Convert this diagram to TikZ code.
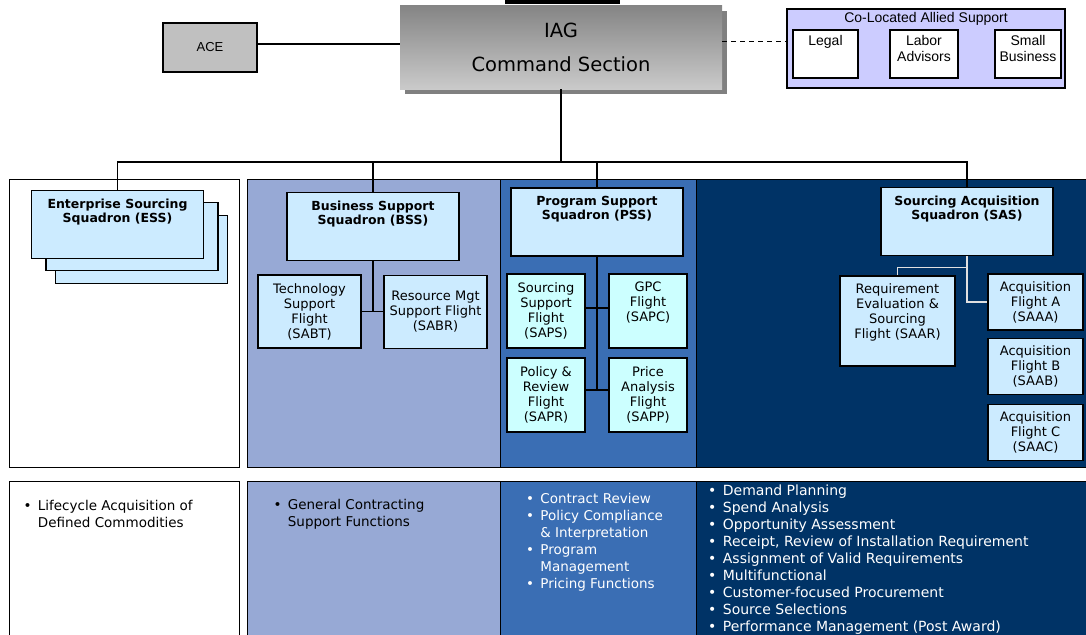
\documentclass[tikz,border=0pt]{standalone}
\usepackage{fontspec}
\setmainfont{DejaVu Sans}
\newfontfamily\arialfont{Liberation Sans}
\usetikzlibrary{positioning,shadows}

\definecolor{sqblue}{HTML}{CCEBFF}
\definecolor{flcyan}{HTML}{CCFFFF}
\definecolor{bssblue}{HTML}{97A9D5}
\definecolor{pssblue}{HTML}{3A6EB4}
\definecolor{sasblue}{HTML}{003366}
\definecolor{alliedbg}{HTML}{CCCCFF}
\definecolor{acegray}{HTML}{C0C0C0}
\definecolor{iagtop}{HTML}{858585}
\definecolor{iagbot}{HTML}{CACACA}

\newcommand{\blt}{\makebox[1.05em][l]{\textbullet}}
\newcommand{\bltin}{\hspace*{1.05em}}

\begin{document}
\begin{tikzpicture}[x=1pt,y=-1pt,
    box/.style={draw,line width=1.2pt,inner sep=0pt},
    sqbox/.style={box,fill=sqblue,minimum width=172pt,minimum height=68pt},
    sqtext/.style={align=center,inner sep=0pt,font=\fontsize{12.5}{14}\selectfont\bfseries},
    flbox/.style={box,fill=sqblue,align=center,font=\fontsize{13}{15}\selectfont},
    fltext/.style={align=center,inner sep=0pt,font=\fontsize{13}{15}\selectfont},
    cobox/.style={box,fill=white,minimum height=48pt},
    cotext/.style={align=center,inner sep=0pt,font=\arialfont\fontsize{14}{15.5}\selectfont},
    bullets/.style={anchor=north west,align=left,inner sep=0pt,font=\fontsize{13.5}{17}\selectfont},
    wire/.style={line width=1.2pt}]
\useasboundingbox (0,0) rectangle (1086,634);

% panels behind each squadron, top row and function row
\foreach \l/\r/\col in {9/239/white, 247/500/bssblue, 500/696/pssblue, 696/1086/sasblue} {
    \draw[fill=\col] (\l,179) rectangle (\r,467);
    \draw[fill=\col] (\l,481) rectangle (\r,640);
}
\fill (505,0) rectangle (620,4);

% command level
\node[box,fill=acegray,minimum width=94pt,minimum height=49pt,font=\arialfont\fontsize{13}{15}\selectfont] (ace) at (210,47.5) {ACE};
\node[inner sep=0pt,minimum width=322pt,minimum height=83pt,top color=iagtop,bottom color=iagbot,
      drop shadow={shadow xshift=5pt,shadow yshift=-5pt,fill=black!50,opacity=1},
      align=center,font=\fontsize{19.5}{34}\selectfont] (iag) at (561,47.5) {IAG\\Command Section};
\node[box,fill=alliedbg,minimum width=278pt,minimum height=79pt] (allied) at (926,48.5) {};
\node[cotext,below=3.5pt of allied.north] (allied-t) {Co-Located Allied Support};
\foreach \n/\x/\w/\txt in {legal/825.5/65/Legal, labor/924/68/{Labor\\Advisors}, small/1028/66/{Small\\Business}} {
    \node[cobox,minimum width=\w pt] (\n) at (\x,54) {};
    \node[cotext,below=6pt of \n.north] (\n-t) {\txt};
}

% squadrons
\foreach \i/\dx/\dy in {3/24/25, 2/14.5/12}
    \node[sqbox] (ess\i) at ({117.5+\dx},{224.5+\dy}) {};
\foreach \n/\x/\y/\txt in {ess/117.5/224.5/{Enterprise Sourcing\\Squadron (ESS)},
        bss/373/226.5/{Business Support\\Squadron (BSS)},
        pss/597/222/{Program Support\\Squadron (PSS)},
        sas/967/221.5/{Sourcing Acquisition\\Squadron (SAS)}} {
    \node[sqbox] (\n) at (\x,\y) {};
    \node[sqtext,below=8.5pt of \n.north] (\n-t) {\txt};
}

% flights
\node[flbox,minimum width=103pt,minimum height=73pt] (sabt) at (309.5,311.5) {Technology\\Support\\Flight\\(SABT)};
\node[flbox,minimum width=103pt,minimum height=73pt] (sabr) at (435.5,312) {Resource Mgt\\Support Flight\\(SABR)};
\foreach \n/\x/\y/\txt in {saps/546/311/{Sourcing\\Support\\Flight\\(SAPS)},
        sapr/546/395/{Policy \&\\Review\\Flight\\(SAPR)},
        sapp/648/395/{Price\\Analysis\\Flight\\(SAPP)}}
    \node[flbox,fill=flcyan,minimum width=78pt,minimum height=74pt] (\n) at (\x,\y) {\txt};
\node[flbox,fill=flcyan,minimum width=78pt,minimum height=74pt] (sapc) at (648,311) {};
\node[fltext,below=8pt of sapc.north] (sapc-t) {GPC\\Flight\\(SAPC)};
\node[flbox,minimum width=115pt,minimum height=90pt] (saar) at (897.5,321) {};
\node[fltext,below=8pt of saar.north] (saar-t) {Requirement\\Evaluation \&\\Sourcing\\Flight (SAAR)};
\foreach \n/\y/\txt in {saaa/302/A, saab/366.5/B, saac/432.5/C}
    \node[flbox,minimum width=95pt,minimum height=56pt] (\n) at (1035.5,\y) {Acquisition\\Flight \txt\\(SAA\txt)};

% connectors
\draw[line width=2pt] ([yshift=3.5pt]ace.east) -- ([yshift=3.5pt]ace.east -| iag.west);
\draw[line width=1pt,dash pattern=on 5pt off 4pt] ([yshift=5.5pt]iag.east) -- ([yshift=5.5pt]iag.east -| allied.west);
\coordinate (bus) at (561,162);
\draw[wire] (iag.south) -- (bus);
\foreach \n in {ess,bss,pss,sas}
    \draw[wire] (bus) -| (\n.north);
\draw[wire] (bss.south) -- (bss.south |- sabt.east);
\draw[wire] (sabt.east) -- (sabt.east -| sabr.west);
\draw[wire] (pss.south) -- ([yshift=5pt]pss.south |- sapr.east);
\draw[wire] ([yshift=3pt]saps.east) -- ([yshift=3pt]saps.east -| sapc.west);
\draw[wire] ([yshift=5pt]sapr.east) -- ([yshift=5pt]sapr.east -| sapp.west);
\coordinate (sasj) at ([yshift=-11pt]sas.south);
\draw[wire,draw=black!12] (sas.south) |- (saaa.west);
\draw[wire,draw=black!12] (sasj) -| (saar.north);

% functions
\node[bullets] (ess-f) at (23.5,500.5) {\blt Lifecycle Acquisition of\\\bltin Defined Commodities};
\node[bullets] (bss-f) at (273.5,499.5) {\blt General Contracting\\\bltin Support Functions};
\node[bullets,text=white] (pss-f) at (526,493.5) {\blt Contract Review\\\blt Policy Compliance\\\bltin \& Interpretation\\\blt Program\\\bltin Management\\\blt Pricing Functions};
\node[bullets,text=white,font=\fontsize{14}{17}\selectfont] (sas-f) at (708,484.5) {\blt Demand Planning\\\blt Spend Analysis\\\blt Opportunity Assessment\\\blt Receipt, Review of Installation Requirement\\\blt Assignment of Valid Requirements\\\blt Multifunctional\\\blt Customer-focused Procurement\\\blt Source Selections\\\blt Performance Management (Post Award)};
\end{tikzpicture}
\end{document}
